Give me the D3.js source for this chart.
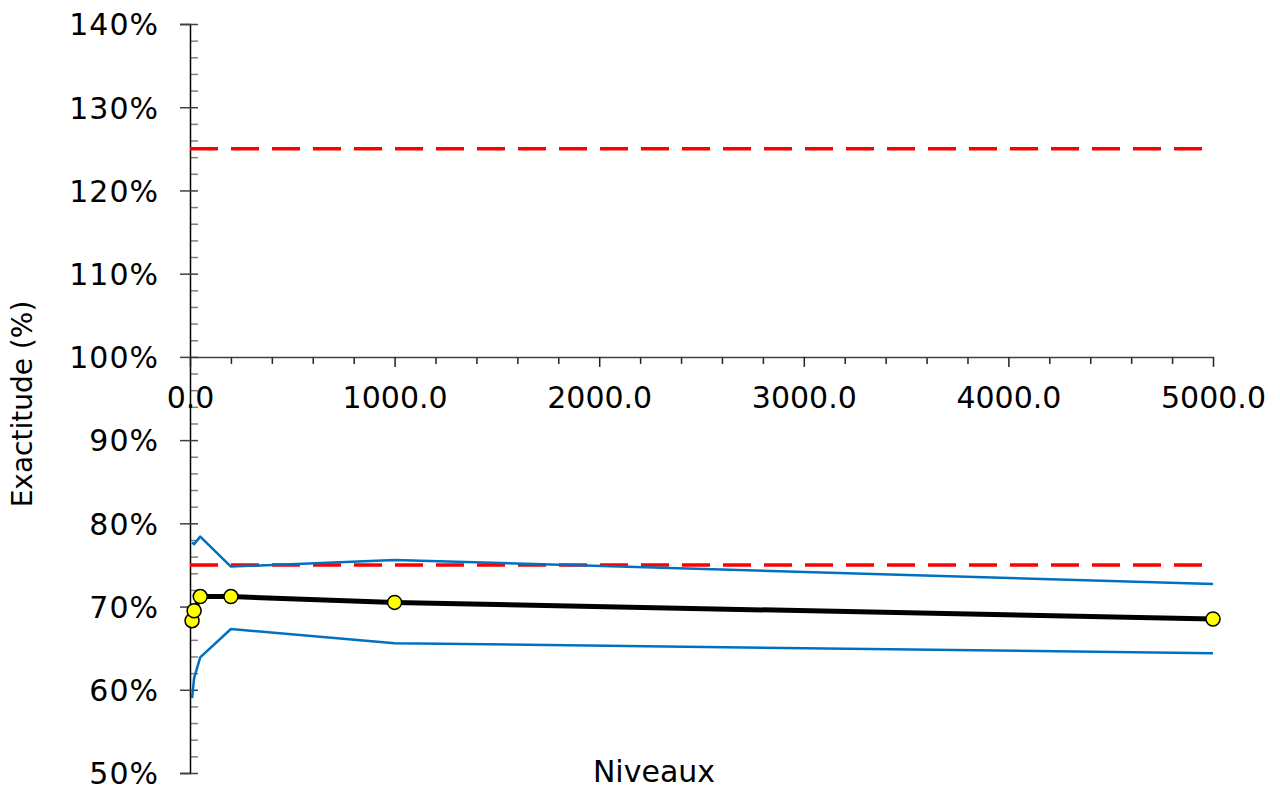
<!DOCTYPE html>
<html>
<head>
<meta charset="utf-8">
<script src="https://cdn.jsdelivr.net/npm/d3@7"></script>
<style>
  html, body { margin: 0; padding: 0; background: #ffffff; }
  svg { display: block; font-family: "DejaVu Sans", Verdana, sans-serif; }
</style>
</head>
<body>
<svg id="chart" width="1280" height="788"></svg>
<script>
// ---- data ----
const levels = [10, 20, 50, 200, 1000, 5000];
const meanAccuracy = [68.3, 69.5, 71.2, 71.2, 70.5, 68.5];
const upperBound = [77.7, 77.5, 78.4, 74.8, 75.6, 72.7];
const lowerBound = [59.0, 61.4, 63.9, 67.3, 65.6, 64.4];
const limitHigh = 125;
const limitLow = 75;
const yMajorTicks = [50, 60, 70, 80, 90, 100, 110, 120, 130, 140];
const xMajorTicks = [0, 1000, 2000, 3000, 4000, 5000];
const xAxisTitle = "Niveaux";
const yAxisTitle = "Exactitude (%)";

// ---- layout ----
const svg = d3.select("#chart");
const x = d3.scaleLinear().domain([0, 5000]).range([190, 1213]);
const y = d3.scaleLinear().domain([50, 140]).range([773, 24]);

const yMinor = d3.range(50, 140.001, 2).filter(v => v % 10 !== 0);
const xMinor = d3.range(0, 5000.001, 200).filter(v => v % 1000 !== 0);

// y minor ticks (inside, gray)
const yMinorAxis = svg.append("g")
  .attr("transform", `translate(${x(0)},0)`)
  .call(d3.axisRight(y).tickValues(yMinor).tickSize(8).tickFormat(""));
yMinorAxis.select(".domain").remove();
yMinorAxis.selectAll(".tick line").attr("stroke", "#808080").attr("stroke-width", 1.5);

// y major axis
const yAxis = svg.append("g")
  .attr("transform", `translate(${x(0)},0)`)
  .call(d3.axisLeft(y).tickValues(yMajorTicks).tickSize(10).tickFormat(d => d + "%"));
yAxis.select(".domain").attr("stroke", "#000").attr("stroke-width", 1.5);
yAxis.selectAll(".tick line").attr("stroke", "#404040").attr("stroke-width", 1.5).attr("x2", -10);
yAxis.selectAll(".tick").append("line")
  .attr("x1", 0).attr("x2", 8).attr("stroke", "#404040").attr("stroke-width", 1.5);
yAxis.selectAll(".tick text")
  .attr("x", -31).attr("dy", "0.36em")
  .attr("font-size", 30).attr("letter-spacing", "1")
  .attr("font-family", "DejaVu Sans, Verdana, sans-serif")
  .attr("fill", "#000");

// x axis at 100%
const xMinorAxis = svg.append("g")
  .attr("transform", `translate(0,${y(100)})`)
  .call(d3.axisBottom(x).tickValues(xMinor).tickSize(7).tickFormat(""));
xMinorAxis.select(".domain").remove();
xMinorAxis.selectAll(".tick line").attr("stroke", "#202020").attr("stroke-width", 1.5);

const xAxis = svg.append("g")
  .attr("transform", `translate(0,${y(100)})`)
  .call(d3.axisBottom(x).tickValues(xMajorTicks).tickSize(10).tickSizeOuter(0).tickFormat(d3.format(".1f")));
xAxis.select(".domain").attr("stroke", "#404040").attr("stroke-width", 1.5);
xAxis.selectAll(".tick line").attr("stroke", "#202020").attr("stroke-width", 1.5);
xAxis.selectAll(".tick text")
  .attr("y", 51).attr("dy", "0")
  .attr("font-size", 30).attr("font-family", "DejaVu Sans, Verdana, sans-serif")
  .attr("fill", "#000");

// ---- reference limits ----
const plot = svg.append("g");
[limitHigh, limitLow].forEach(v => {
  plot.append("line")
    .attr("x1", x(0)).attr("x2", x(5000))
    .attr("y1", y(v)).attr("y2", y(v))
    .attr("stroke", "#FF0000").attr("stroke-width", 3.5)
    .attr("stroke-dasharray", "28,13");
});

const line = d3.line().x(d => x(d[0])).y(d => y(d[1]));
[upperBound, lowerBound].forEach(arr => {
  plot.append("path")
    .datum(levels.map((l, i) => [l, arr[i]]))
    .attr("d", line)
    .attr("fill", "none")
    .attr("stroke", "#0070C0")
    .attr("stroke-width", 2.5)
    .attr("stroke-linejoin", "round");
});

plot.append("path")
  .datum(levels.map((l, i) => [l, meanAccuracy[i]]))
  .attr("d", line)
  .attr("fill", "none")
  .attr("stroke", "#000")
  .attr("stroke-width", 5)
  .attr("stroke-linejoin", "round");

plot.selectAll("circle.pt")
  .data(levels.map((l, i) => [l, meanAccuracy[i]]))
  .join("circle")
  .attr("class", "pt")
  .attr("cx", d => x(d[0]))
  .attr("cy", d => y(d[1]))
  .attr("r", 7)
  .attr("fill", "#FFFF00")
  .attr("stroke", "#000")
  .attr("stroke-width", 1.5);

// ---- titles ----
svg.append("text")
  .attr("x", 654).attr("y", 782)
  .attr("text-anchor", "middle")
  .attr("font-size", 30)
  .attr("fill", "#000")
  .text(xAxisTitle);

svg.append("text")
  .attr("transform", "translate(32,404) rotate(-90)")
  .attr("text-anchor", "middle")
  .attr("font-size", 28)
  .attr("fill", "#000")
  .text(yAxisTitle);
</script>
</body>
</html>
